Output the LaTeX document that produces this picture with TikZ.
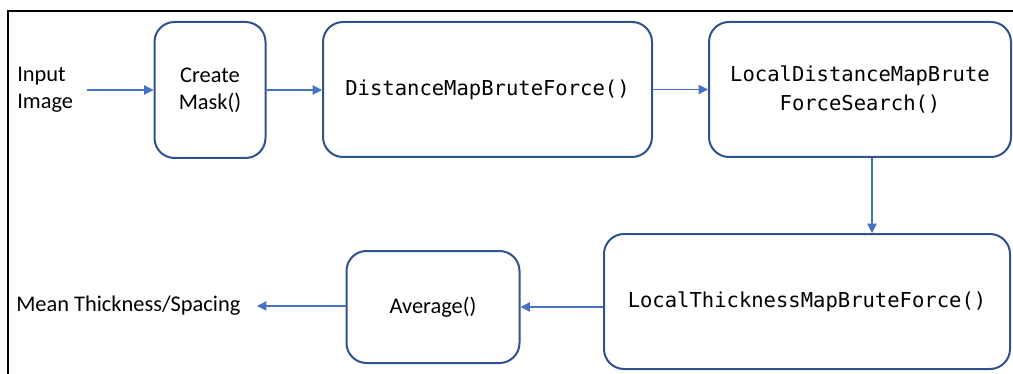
\documentclass[tikz,border=0pt]{standalone}
\usepackage{fontspec}
\setmainfont{Carlito}
\newfontfamily\codefont{DejaVu Sans Mono}
\usetikzlibrary{arrows.meta}
\definecolor{boxline}{HTML}{2F528F}
\definecolor{arrowblue}{HTML}{4472C4}
\begin{document}
\begin{tikzpicture}[x=0.75pt,y=-0.75pt,
  procbox/.style={draw=boxline,line width=1.5pt,rounded corners=15pt,
    align=center,inner sep=0pt},
  plain/.style={font=\fontsize{16.8}{20.3}\selectfont},
  code/.style={font=\codefont\fontsize{15.4}{21}\selectfont},
  flow/.style={draw=arrowblue,line width=0.8pt,
    -{Triangle[length=7pt,width=7pt]}}]
\useasboundingbox (0,0) rectangle (1013,374);
% frame
\draw[line width=1pt] (8,374) -- (8,11) -- (1013,11);

% top row
\node[plain,align=left,anchor=west,inner sep=0pt] (inp) at (17,90) {Input\\Image};
\node[procbox,plain,minimum width=111*0.75pt,minimum height=136*0.75pt] (mask) at (210,90) {Create\\Mask()};
\node[procbox,code,minimum width=329*0.75pt,minimum height=135*0.75pt] (dmbf) at (487.5,89.5) {DistanceMapBruteForce()};
\node[procbox,code,minimum width=302*0.75pt,minimum height=135*0.75pt] (ldm) at (860,89.5) {LocalDistanceMapBrute\\ForceSearch()};

% bottom row
\node[procbox,code,minimum width=406*0.75pt,minimum height=135*0.75pt] (ltm) at (807,301.5) {LocalThicknessMapBruteForce()};
\node[procbox,plain,minimum width=173*0.75pt,minimum height=112*0.75pt] (avg) at (433,307) {Average()};
\node[plain,anchor=west,inner sep=0pt] (mean) at (16,306) {Mean Thickness/Spacing};

% connectors
\coordinate (inpend) at (87,90);
\draw[flow] (inpend) -- (mask.west);
\draw[flow] (mask.east) -- (mask.east -| dmbf.west);
\draw[flow] (dmbf.east) -- (ldm.west);
\draw[flow] ([xshift=12*0.75pt]ldm.south) -- ([xshift=12*0.75pt]ldm.south |- ltm.north);
\draw[flow] (ltm.west |- avg.east) -- (avg.east);
\coordinate (meanend) at (257,306);
\draw[flow] (avg.west |- meanend) -- (meanend);
\end{tikzpicture}
\end{document}
